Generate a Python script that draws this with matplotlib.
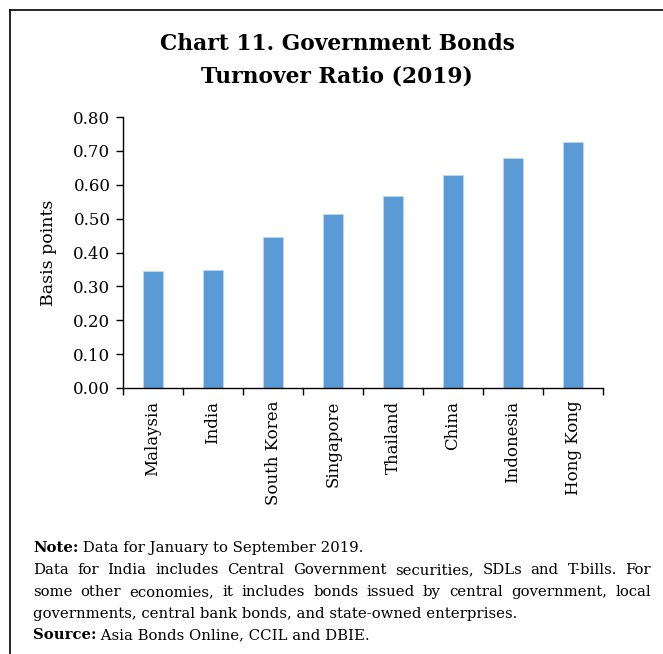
import matplotlib; matplotlib.use('Agg')
import matplotlib.pyplot as plt
import numpy as np
from matplotlib.lines import Line2D

plt.rcParams['font.family'] = ['DejaVu Serif']

countries = ['Malaysia', 'India', 'South Korea', 'Singapore', 'Thailand',
             'China', 'Indonesia', 'Hong Kong']
turnover = [0.345, 0.347, 0.445, 0.515, 0.568, 0.628, 0.678, 0.725]
yticks = [0.0, 0.1, 0.2, 0.3, 0.4, 0.5, 0.6, 0.7, 0.8]

BAR = '#5B9BD5'
W, H = 663, 654

fig = plt.figure(figsize=(W / 100, H / 100), dpi=100)
ax = fig.add_axes([123 / W, 1 - 388 / H, 480 / W, 271 / H])

x = np.arange(len(countries))
ax.bar(x, turnover, width=0.32, color=BAR, edgecolor='#BDD7EE', linewidth=0.6)

ax.set_xlim(-0.5, len(countries) - 0.5)
ax.set_ylim(0, 0.8)
ax.set_yticks(yticks)
ax.set_yticklabels([f'{v:.2f}' for v in yticks], fontsize=12)
ax.set_xticks(x)
ax.set_xticklabels(countries, rotation=90, fontsize=12)
ax.set_xticks(np.arange(len(countries) + 1) - 0.5, minor=True)
ax.tick_params(axis='x', which='major', length=0, pad=9)
ax.tick_params(axis='x', which='minor', length=5, width=1)
ax.tick_params(axis='y', length=5, width=1, pad=4)
for s in ['top', 'right']:
    ax.spines[s].set_visible(False)
for s in ['left', 'bottom']:
    ax.spines[s].set_linewidth(1)
ax.set_ylabel('Basis points', fontsize=12.5, labelpad=12)

# title
fig.text(337 / W, 1 - 44 / H, 'Chart 11. Government Bonds', ha='center', va='center',
         fontsize=15.7, fontweight='bold')
fig.text(337 / W, 1 - 76 / H, 'Turnover Ratio (2019)', ha='center', va='center',
         fontsize=15.7, fontweight='bold')

# frame (cut by image edges)
fig.add_artist(Line2D([9.5 / W, 9.5 / W], [0, 1 - 10 / H], color='black', lw=1.2,
                      transform=fig.transFigure))
fig.add_artist(Line2D([9.5 / W, 1], [1 - 10 / H, 1 - 10 / H], color='black', lw=1.2,
                      transform=fig.transFigure))

# notes
renderer = fig.canvas.get_renderer()
x0, x1 = 33, 651
fs = 10.7


def width_px(t):
    return t.get_window_extent(renderer).width


def run_line(parts, y):
    xp = x0
    for txt, bold in parts:
        t = fig.text(xp / W, 1 - y / H, txt, fontsize=fs, va='baseline',
                     fontweight='bold' if bold else 'normal')
        xp += width_px(t)


def justify_line(line, y):
    words = line.split(' ')
    ts = [fig.text(0, 1 - y / H, w, fontsize=fs, va='baseline') for w in words]
    widths = [width_px(t) for t in ts]
    gap = (x1 - x0 - sum(widths)) / (len(words) - 1)
    xp = x0
    for t, w in zip(ts, widths):
        t.set_x(xp / W)
        xp += w + gap


run_line([('Note:', True), (' Data for January to September 2019.', False)], 552)
justify_line('Data for India includes Central Government securities, SDLs and T-bills. For', 574)
justify_line('some other economies, it includes bonds issued by central government, local', 596)
run_line([('governments, central bank bonds, and state-owned enterprises.', False)], 618)
run_line([('Source:', True), (' Asia Bonds Online, CCIL and DBIE.', False)], 639)

fig.savefig('out.png', dpi=100)
